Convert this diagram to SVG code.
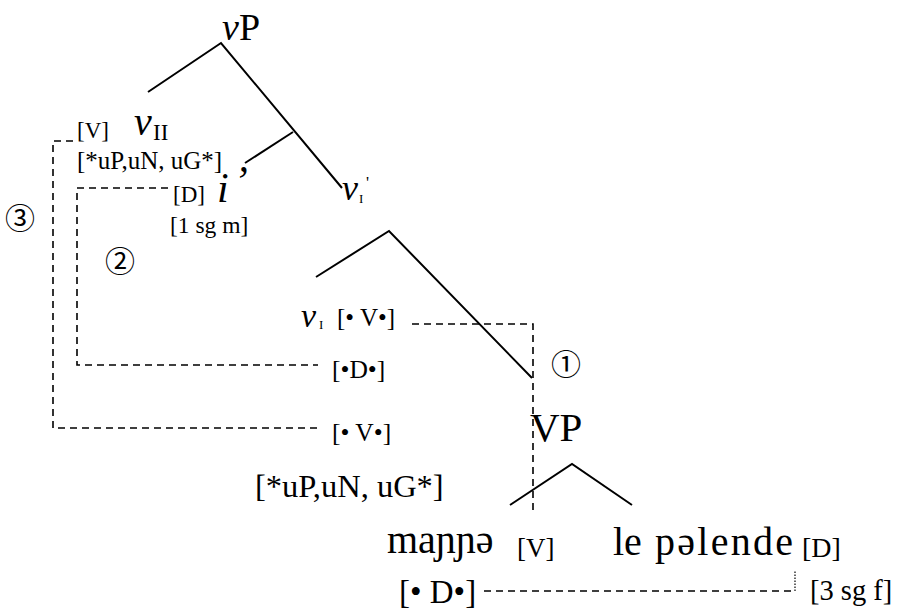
<svg xmlns="http://www.w3.org/2000/svg" width="905" height="610" viewBox="0 0 905 610">
<style>
text{font-family:"Liberation Serif","DejaVu Serif",serif;fill:#000}
.it{font-style:italic}
.num{font-family:"Noto Sans CJK JP","DejaVu Sans",sans-serif;font-size:30px;text-anchor:middle}
.br{stroke:#000;stroke-width:2;fill:none}
.dash{stroke:#000;stroke-width:1.6;fill:none;stroke-dasharray:7 5}
.dot{stroke:#000;stroke-width:1.2;fill:none;stroke-dasharray:1.5 1.5}
</style>
<rect width="905" height="610" fill="#fff"/>
<g id="connectors">
<path class="br" d="M148,92 L221,43 L342,188"/>
<path class="br" d="M245,163 L293,132"/>
<path class="br" d="M316,277 L389,231 L532,378"/>
<path class="br" d="M510,505 L572,464 L632,505"/>
<path class="dash" d="M73,141 H53 V428 H318"/>
<path class="dash" d="M168,188 H77 V365 H318"/>
<path class="dash" d="M412,324 H533 V515"/>
<path class="dash" d="M484,591 H795"/>
<path class="dot" d="M795,591 V570"/>
</g>
<g id="vP"><text x="222" y="40" font-size="38"><tspan class="it">v</tspan>P</text></g>
<g id="vII">
<text x="77" y="138" font-size="23">[V]</text>
<text x="134" y="135" font-size="40" class="it">v</text>
<text x="153" y="140" font-size="23">II</text>
<text x="77" y="169" font-size="25">[*uP,uN, uG*]</text>
</g>
<g id="i">
<text x="173" y="202" font-size="23">[D]</text>
<text x="217" y="202" font-size="42" class="it">i<tspan dx="5" dy="-7">’</tspan></text>
<text x="170" y="233" font-size="23.5">[1 sg m]</text>
</g>
<g id="vIbar">
<text x="342" y="200" font-size="36" class="it">v</text>
<text x="359" y="203" font-size="13">I</text>
<text x="366" y="188" font-size="17">'</text>
</g>
<g id="vI">
<text x="301" y="327" font-size="34" class="it">v</text>
<text x="319" y="329" font-size="13">I</text>
<text x="337" y="326" font-size="25">[• V•]</text>
</g>
<g id="features">
<text x="332" y="378" font-size="25.5">[•D•]</text>
<text x="332" y="441" font-size="25.5">[• V•]</text>
<text x="255" y="497" font-size="32.5">[*uP,uN, uG*]</text>
</g>
<g id="VP"><text x="530" y="441" font-size="41">VP</text></g>
<g id="V">
<text x="387" y="553" font-size="40">maɲɲə</text>
<text x="517" y="557" font-size="27">[V]</text>
<text x="399" y="603" font-size="33">[• D•]</text>
</g>
<g id="D">
<text x="613" y="555" font-size="40">le</text>
<text x="655" y="555" font-size="40" textLength="138" lengthAdjust="spacing">pəlende</text>
<text x="802" y="557" font-size="28">[D]</text>
<text x="810" y="600" font-size="28.5">[3 sg f]</text>
</g>
<g id="steps">
<text class="num" x="566" y="375">①</text>
<text class="num" x="120" y="272">②</text>
<text class="num" x="20" y="229">③</text>
</g>
</svg>
